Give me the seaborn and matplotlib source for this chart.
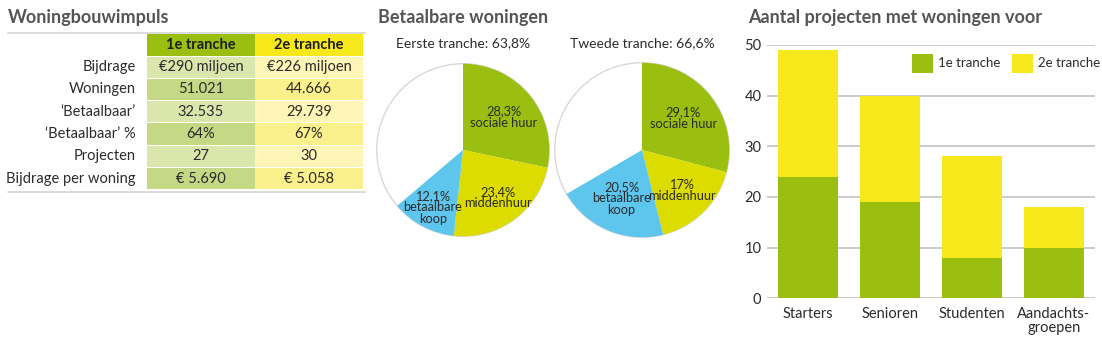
import matplotlib
matplotlib.use("Agg")
import matplotlib.pyplot as plt
from matplotlib.patches import Rectangle, Circle
import numpy as np
import seaborn as sns
import pandas as pd

# ---- Woningbouwimpuls table ----
row_labels = ["Bijdrage", "Woningen", "\u2018Betaalbaar\u2019", "\u2018Betaalbaar\u2019 %",
              "Projecten", "Bijdrage per woning"]
col_labels = ["1e tranche", "2e tranche"]
tranche1_cells = ["\u20ac290 miljoen", "51.021", "32.535", "64%", "27", "\u20ac 5.690"]
tranche2_cells = ["\u20ac226 miljoen", "44.666", "29.739", "67%", "30", "\u20ac 5.058"]

# ---- Betaalbare woningen pies ----
segments = ["sociale huur", "middenhuur", "betaalbare\nkoop"]
eerste_shares = [28.3, 23.4, 12.1]
tweede_shares = [29.1, 17.0, 20.5]
eerste_total = 63.8
tweede_total = 66.6

# ---- Aantal projecten bars ----
groups = ["Starters", "Senioren", "Studenten", "Aandachts-\ngroepen"]
projecten_1e = [24, 19, 8, 10]
projecten_2e = [25, 21, 20, 8]

GREEN = "#9bbf10"
YELLOW = "#f7e81c"
PIE_YELLOW = "#dcdc00"
BLUE = "#5ec5ed"
TITLE = "#555555"
TEXT = "#2b2b2b"

sns.set_theme(style="white")
plt.rcParams["font.family"] = ["Lato", "DejaVu Sans"]

W, H = 1102, 345
fig = plt.figure(figsize=(W / 100, H / 100), dpi=100)
fig.patch.set_facecolor("white")


def px_axes(left, top, width, height):
    return fig.add_axes([left / W, 1 - (top + height) / H, width / W, height / H])


def nl(v):
    s = f"{v:.1f}".replace(".", ",")
    return s[:-2] if s.endswith(",0") else s


# Section titles
for x, t in [(8, "Woningbouwimpuls"), (378, "Betaalbare woningen"),
             (748, "Aantal projecten met woningen voor")]:
    fig.text(x / W, 1 - 17 / H, t, ha="left", va="center", fontsize=13,
             fontweight="bold", color=TITLE)

# ---- table ----
ax_t = px_axes(0, 28, 370, 168)
ax_t.set_xlim(0, 370)
ax_t.set_ylim(196, 28)
ax_t.axis("off")
ax_t.plot([8, 365], [32.5, 32.5], color="#d4d4d4", lw=1.2)
ax_t.plot([8, 365], [191.5, 191.5], color="#d4d4d4", lw=1.2)

col_x = [147, 255]
col_w = 108
header_colors = [GREEN, YELLOW]
light = ["#dae6ac", "#fdf6b6"]
dark = ["#c4d886", "#faf08c"]
cols = [tranche1_cells, tranche2_cells]
row_top0, row_h = 56.5, 22.3

for j, lab in enumerate(col_labels):
    ax_t.add_patch(Rectangle((col_x[j], 34), col_w, 21.5, facecolor=header_colors[j],
                             edgecolor="none"))
    ax_t.text(col_x[j] + col_w / 2, 45, lab, ha="center", va="center", fontsize=10.5,
              fontweight="bold", color="#1e1e1e")

for i, lab in enumerate(row_labels):
    top = row_top0 + i * row_h
    yc = top + (row_h - 1) / 2
    ax_t.text(136, yc, lab, ha="right", va="center", fontsize=10.5, color=TEXT)
    for j in range(2):
        fc = light[j] if i % 2 == 0 else dark[j]
        ax_t.add_patch(Rectangle((col_x[j], top), col_w, row_h - 1.2, facecolor=fc,
                                 edgecolor="none"))
        ax_t.text(col_x[j] + col_w / 2, yc, cols[j][i], ha="center", va="center",
                  fontsize=10.5, color=TEXT)

# ---- pies ----
def draw_pie(cx, cy, r, shares, total, title, label_dist):
    ax = px_axes(cx - r, cy - r, 2 * r, 2 * r)
    values = shares + [100 - sum(shares)]
    labels = [f"{nl(v)}%\n{s}" for v, s in zip(shares, segments)] + [""]
    ax.add_patch(Circle((0, 0), 1.0, facecolor="white", edgecolor="#d8d8d8", lw=1.0,
                        zorder=0))
    wedges, texts = ax.pie(values, colors=[GREEN, PIE_YELLOW, BLUE, "white"],
                           startangle=90, counterclock=False, labels=labels,
                           labeldistance=0.66, radius=1.0,
                           wedgeprops=dict(linewidth=0),
                           textprops=dict(fontsize=9.2, color=TEXT, linespacing=0.95))
    wedges[-1].set_alpha(0)
    # place each label inside its wedge at its own radial distance
    for w, t, d in zip(wedges, texts, label_dist + [0.5]):
        ang = np.deg2rad((w.theta1 + w.theta2) / 2)
        t.set_position((d * np.cos(ang), d * np.sin(ang)))
        t.set_ha("center")
        t.set_va("center")
    ax.set_xlim(-1.02, 1.02)
    ax.set_ylim(-1.02, 1.02)
    fig.text(cx / W, 1 - 43 / H, f"{title}: {nl(total)}%", ha="center", va="center",
             fontsize=10, color=TEXT)


draw_pie(463, 150, 88, eerste_shares, eerste_total, "Eerste tranche", [0.61, 0.68, 0.75])
draw_pie(642, 150, 89, tweede_shares, tweede_total, "Tweede tranche", [0.60, 0.65, 0.60])

# ---- stacked bars ----
df = pd.DataFrame({"groep": groups, "1e": projecten_1e, "2e": projecten_2e})
df["totaal"] = df["1e"] + df["2e"]

ax_b = px_axes(767, 45, 328, 253.3)
sns.barplot(data=df, x="groep", y="totaal", color=YELLOW, saturation=1, width=0.72,
            linewidth=0, label="2e tranche", ax=ax_b)
sns.barplot(data=df, x="groep", y="1e", color=GREEN, saturation=1, width=0.72,
            linewidth=0, label="1e tranche", ax=ax_b)
ax_b.set_xlim(-0.5, 3.5)
ax_b.set_ylim(0, 50)
ax_b.set_yticks([0, 10, 20, 30, 40, 50])
ax_b.set_xlabel("")
ax_b.set_ylabel("")
for s in ax_b.spines.values():
    s.set_visible(False)
ax_b.yaxis.grid(True, color="#cccccc", lw=1.4)
ax_b.set_axisbelow(True)
ax_b.tick_params(axis="y", length=0, pad=4, labelsize=10.5, labelcolor=TEXT)
ax_b.tick_params(axis="x", length=0, pad=6, labelsize=10.5, labelcolor=TEXT)
for t in ax_b.get_xticklabels():
    t.set_linespacing(1.0)

handles, labels = ax_b.get_legend_handles_labels()
order = [labels.index("1e tranche"), labels.index("2e tranche")]
ax_b.legend([handles[k] for k in order], [labels[k] for k in order], ncol=2,
            frameon=False, loc="upper left", bbox_to_anchor=(0.442, 0.965),
            borderpad=0, borderaxespad=0, handlelength=1.6, handleheight=1.8,
            handletextpad=0.38, columnspacing=0.9, fontsize=9.5,
            labelcolor=TEXT)

fig.savefig("out.png", dpi=100, facecolor="white")
